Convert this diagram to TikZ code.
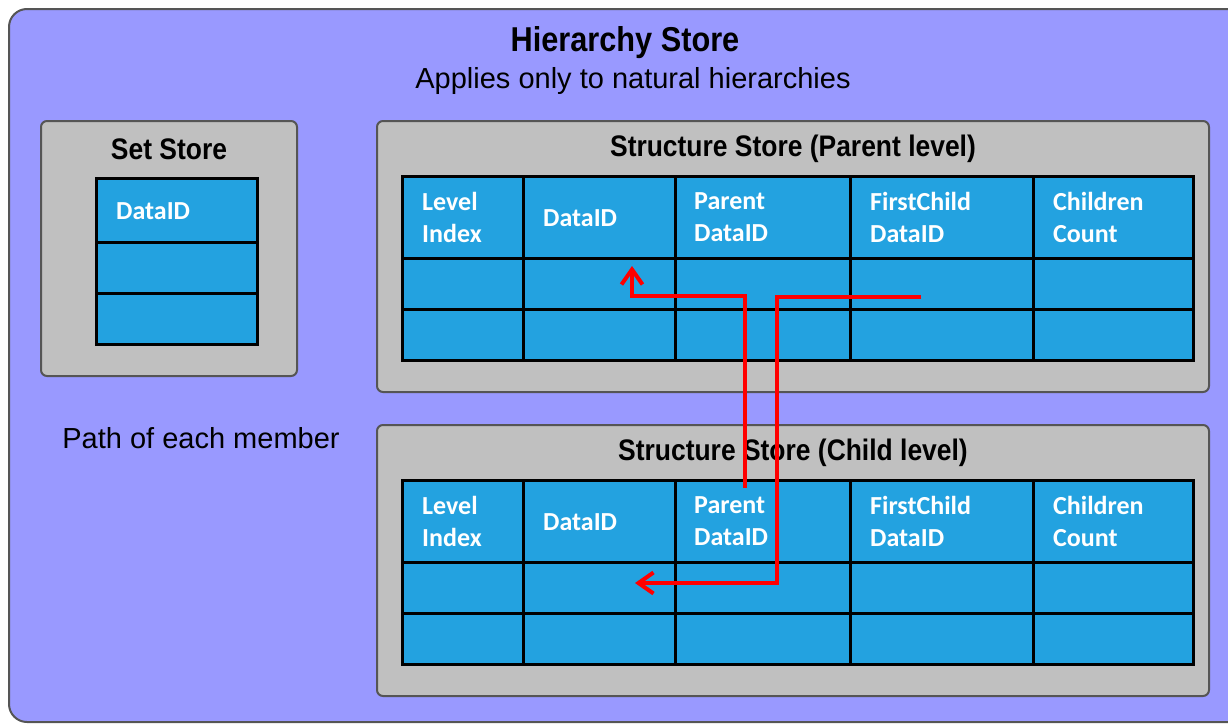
\documentclass[tikz,border=0pt]{standalone}
\usepackage{fontspec}
\setmainfont{Liberation Sans}
\newfontfamily\narrowfont[FakeStretch=0.89]{Liberation Sans}
\newfontfamily\hdrfont{Carlito}
\usetikzlibrary{arrows.meta}
\definecolor{hierblue}{RGB}{153,153,255}
\definecolor{storegray}{RGB}{192,192,192}
\definecolor{cellblue}{RGB}{35,162,224}
\definecolor{framegray}{RGB}{85,85,85}
\tikzset{
	store/.style={draw=framegray, fill=storegray, line width=2pt, rounded corners=6pt},
	tbl/.style={draw=black, fill=cellblue, line width=3pt},
	grid/.style={draw=black, line width=3pt},
	storetitle/.style={font=\narrowfont\bfseries\fontsize{29.7}{34}\selectfont},
	hdr/.style={anchor=north west, inner sep=0pt, align=left, text=white, font=\hdrfont\bfseries\fontsize{26}{32}\selectfont},
	link/.style={draw=red, line width=4pt, -{Straight Barb[length=15pt,width=21pt]}}
}
\begin{document}
\begin{tikzpicture}[x=1pt, y=-1pt]
	\useasboundingbox (0,0) rectangle (1228,723);
	\draw[draw=framegray, fill=hierblue, line width=2pt, rounded corners=18pt] (9,9) rectangle (1262,722);
	\node[font=\narrowfont\bfseries\fontsize{34.5}{40}\selectfont] (title) at (625,43) {Hierarchy Store};
	\node[font=\fontsize{29}{34}\selectfont] (subtitle) at (633,81) {Applies only to natural hierarchies};
	\node[font=\fontsize{29}{34}\selectfont] (member) at (201,438) {Path of each member};
	% set store
	\draw[store] (41,121) rectangle (297,376);
	\node[storetitle] (settitle) at (169,149) {Set Store};
	\draw[tbl] (96,178) rectangle (257,344);
	\foreach \y in {242,293} \draw[grid] (96,\y) -- (257,\y);
	\node[hdr] (setdata) at (116,202) {DataID};
	% structure stores, parent and child level
	\foreach \lvl/\dy/\name in {p/0/Parent, c/304/Child} {
		\begin{scope}[shift={(0,\dy)}]
			\draw[store] (377,121) rectangle (1209,392);
			\node[storetitle] (\lvl title) at (793,149) {Structure Store (\name\ level)};
			\draw[tbl] (402,176) rectangle (1193,360);
			\foreach \x in {523,675,850,1033} \draw[grid] (\x,176) -- (\x,360);
			\foreach \y in {258,309} \draw[grid] (402,\y) -- (1193,\y);
			\node[hdr] (\lvl level)  at (422,192) {Level\\Index};
			\node[hdr] (\lvl data)   at (543,209) {DataID};
			\node[hdr] (\lvl parent) at (694,192) {Parent\\DataID};
			\node[hdr] (\lvl first)  at (870,192) {FirstChild\\DataID};
			\node[hdr] (\lvl count)  at (1053,192) {Children\\Count};
		\end{scope}
	}
	% path of a member
	\coordinate (cparentrow) at (745,488);
	\coordinate (pdatarow)   at (632,266);
	\coordinate (pfirstrow)  at (921,297);
	\coordinate (cdatarow)   at (635,583);
	\draw[link] (cparentrow) -- ++(0,-192) -| (pdatarow);
	\draw[link] (pfirstrow) -- ++(-144,0) |- (cdatarow);
\end{tikzpicture}
\end{document}
